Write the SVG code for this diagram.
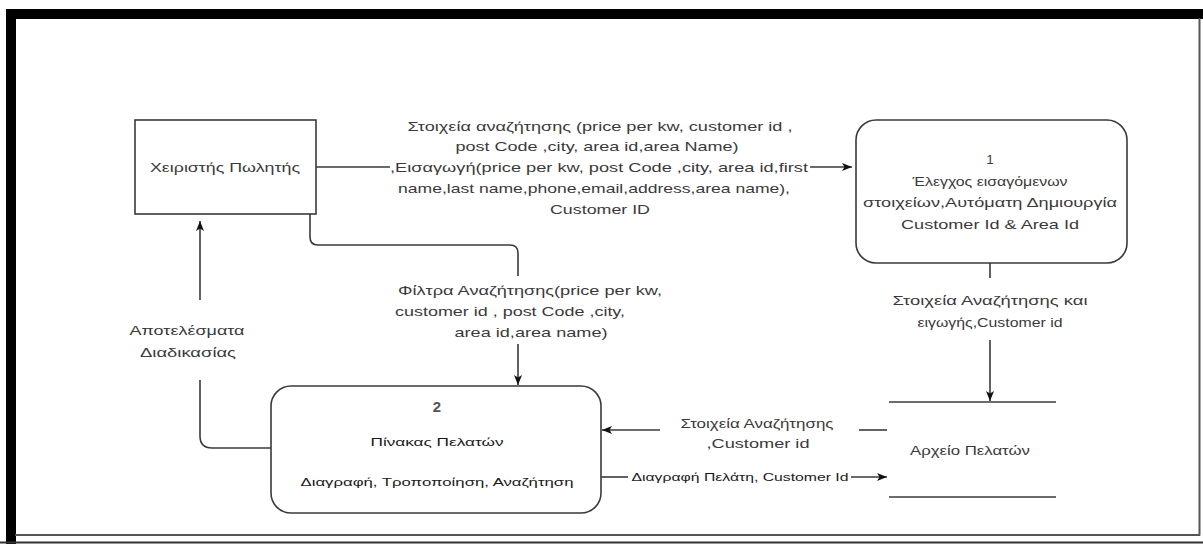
<svg xmlns="http://www.w3.org/2000/svg" width="1203" height="544" viewBox="0 0 1203 544">
<style>
.t{font-family:"Liberation Sans",Arial,sans-serif;font-size:13.5px;fill:#3a3a3a;text-anchor:middle}
.s{font-family:"Liberation Sans",Arial,sans-serif;font-size:11.5px;fill:#1a1a1a;text-anchor:middle}
.ln{fill:none;stroke:#3a3a3a;stroke-width:1.6}
.bx{fill:#fff;stroke:#3a3a3a;stroke-width:1.6}
</style>
<defs>
<marker id="ah" viewBox="0 0 10 10" refX="10" refY="5" markerWidth="10" markerHeight="10" markerUnits="userSpaceOnUse" orient="auto">
<path d="M0,1 L10,5 L0,9 L2.5,5 Z" fill="#111"/>
</marker>
</defs>
<rect width="1203" height="544" fill="#fff"/>
<g id="frame">
<rect x="6" y="9" width="1197" height="10" fill="#000"/>
<rect x="6" y="9" width="10" height="535" fill="#000"/>
<line x1="1199.5" y1="18" x2="1199.5" y2="535.5" stroke="#555" stroke-width="2"/>
<line x1="15" y1="535" x2="1200" y2="535" stroke="#555" stroke-width="2"/>
<line x1="0" y1="542.5" x2="1203" y2="542.5" stroke="#333" stroke-width="2"/>
</g>
<g id="connectors">
<path class="ln" d="M316,167 H390"/>
<path class="ln" d="M810,167 H852" marker-end="url(#ah)"/>
<path class="ln" d="M310,214 V237 Q310,245 318,245 H510 Q518,245 518,253 V276"/>
<path class="ln" d="M518,344 V385" marker-end="url(#ah)"/>
<path class="ln" d="M990,263 V278"/>
<path class="ln" d="M990,340 V401" marker-end="url(#ah)"/>
<path class="ln" d="M887,430 H859"/>
<path class="ln" d="M660,430 H602" marker-end="url(#ah)"/>
<path class="ln" d="M601,477 H628"/>
<path class="ln" d="M851,477 H887" marker-end="url(#ah)"/>
<path class="ln" d="M271,448 H212 Q200,448 200,436 V380"/>
<path class="ln" d="M200,300 V221" marker-end="url(#ah)"/>
<text class="t" x="600" y="131" textLength="385" lengthAdjust="spacingAndGlyphs">Στοιχεία αναζήτησης (price per kw, customer id ,</text>
<text class="t" x="597" y="151" textLength="283" lengthAdjust="spacingAndGlyphs">post Code ,city, area id,area Name)</text>
<text class="t" x="599" y="172" textLength="418" lengthAdjust="spacingAndGlyphs">,Εισαγωγή(price per kw, post Code ,city, area id,first</text>
<text class="t" x="594" y="193" textLength="392" lengthAdjust="spacingAndGlyphs">name,last name,phone,email,address,area name),</text>
<text class="t" x="600" y="214" textLength="100" lengthAdjust="spacingAndGlyphs">Customer ID</text>
<text class="t" x="530" y="295" textLength="264" lengthAdjust="spacingAndGlyphs">Φίλτρα Αναζήτησης(price per kw,</text>
<text class="t" x="510" y="316" textLength="230" lengthAdjust="spacingAndGlyphs">customer id , post Code ,city,</text>
<text class="t" x="531" y="337" textLength="153" lengthAdjust="spacingAndGlyphs">area id,area name)</text>
<text class="t" x="990" y="305" textLength="195" lengthAdjust="spacingAndGlyphs">Στοιχεία Αναζήτησης και</text>
<text class="t" x="990" y="327" textLength="145" lengthAdjust="spacingAndGlyphs">ειγωγής,Customer id</text>
<text class="t" x="187" y="335" textLength="115" lengthAdjust="spacingAndGlyphs">Αποτελέσματα</text>
<text class="t" x="188" y="357" textLength="96" lengthAdjust="spacingAndGlyphs">Διαδικασίας</text>
<text class="t" x="757" y="428" textLength="153" lengthAdjust="spacingAndGlyphs">Στοιχεία Αναζήτησης</text>
<text class="t" x="758" y="448" textLength="103" lengthAdjust="spacingAndGlyphs">,Customer id</text>
<text class="s" x="740" y="481" textLength="217" lengthAdjust="spacingAndGlyphs">Διαγραφή Πελάτη, Customer Id</text>
</g>
<g id="seller">
<rect class="bx" x="135" y="120" width="181" height="94"/>
<text class="t" x="225" y="172" textLength="150" lengthAdjust="spacingAndGlyphs">Χειριστής Πωλητής</text>
</g>
<g id="process1">
<rect class="bx" x="856" y="120" width="271" height="143" rx="20"/>
<text class="t" x="990" y="164">1</text>
<text class="t" x="990" y="186" textLength="155" lengthAdjust="spacingAndGlyphs">Έλεγχος εισαγόμενων</text>
<text class="t" x="990" y="207" textLength="254" lengthAdjust="spacingAndGlyphs">στοιχείων,Αυτόματη Δημιουργία</text>
<text class="t" x="990" y="229" textLength="178" lengthAdjust="spacingAndGlyphs">Customer Id &amp; Area Id</text>
</g>
<g id="process2">
<rect class="bx" x="271" y="386" width="330" height="127" rx="20"/>
<text class="t" x="437" y="412" style="font-size:15px;font-weight:bold;fill:#555">2</text>
<text class="s" x="437" y="446" textLength="133" lengthAdjust="spacingAndGlyphs">Πίνακας Πελατών</text>
<text class="s" x="437" y="486" textLength="273" lengthAdjust="spacingAndGlyphs">Διαγραφή, Τροποποίηση, Αναζήτηση</text>
</g>
<g id="datastore">
<line class="ln" x1="889" y1="402" x2="1056" y2="402"/>
<line class="ln" x1="889" y1="497" x2="1056" y2="497"/>
<text class="t" x="970" y="455" textLength="120" lengthAdjust="spacingAndGlyphs">Αρχείο Πελατών</text>
</g>
</svg>
